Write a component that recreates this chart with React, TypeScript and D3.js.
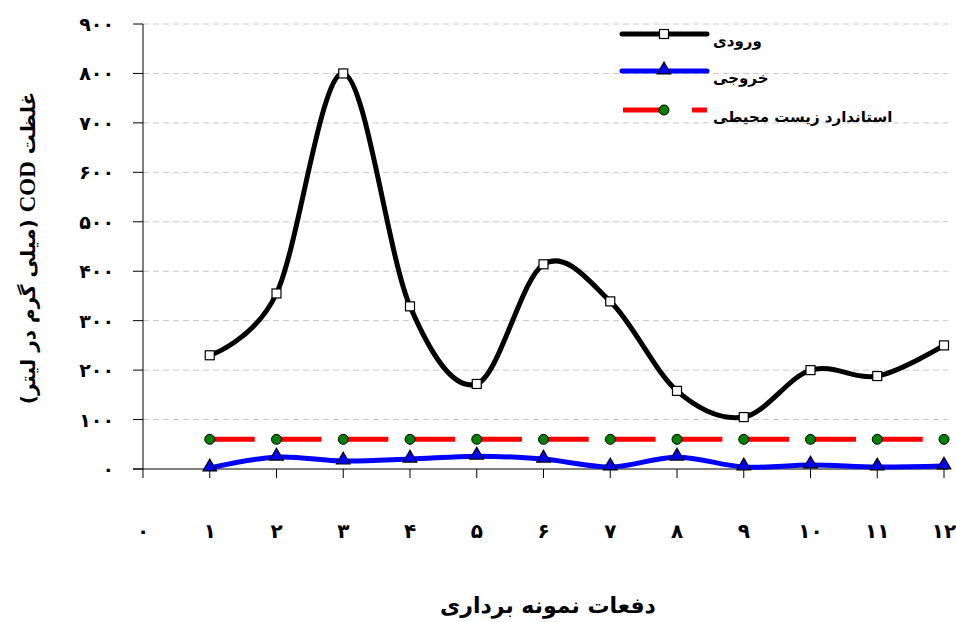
import React from 'react';
import * as d3 from 'd3';

const SAMPLES = [1, 2, 3, 4, 5, 6, 7, 8, 9, 10, 11, 12];
const INLET = [230, 355, 800, 329, 172, 414, 339, 158, 105, 200, 188, 250];
const OUTLET = [2, 24, 16, 20, 26, 20, 4, 24, 4, 8, 4, 6];
const STANDARD = [60, 60, 60, 60, 60, 60, 60, 60, 60, 60, 60, 60];
const Y_TICKS = [0, 100, 200, 300, 400, 500, 600, 700, 800, 900];
const X_TICKS = [0, 1, 2, 3, 4, 5, 6, 7, 8, 9, 10, 11, 12];

const LEGEND = ['ورودی', 'خروجی', 'استاندارد زیست محیطی'];
const Y_TITLE = ['غلظت ', 'COD', ' (میلی گرم در لیتر)'];
const X_TITLE = 'دفعات نمونه برداری';

const W = 956;
const H = 622;
const FONT = "'DejaVu Sans', sans-serif";

const fa = (n: number) => String(n).replace(/\d/g, d => '۰۱۲۳۴۵۶۷۸۹'[+d]);

export default function App() {
  const ref = React.useRef<SVGSVGElement>(null);

  React.useEffect(() => {
    const svg = d3.select(ref.current);
    svg.selectAll('*').remove();

    const x = d3.scaleLinear().domain([0, 12]).range([143, 944]);
    const y = d3.scaleLinear().domain([0, 900]).range([469, 24]);

    // grid
    for (const v of Y_TICKS.filter(v => v > 0)) {
      svg.append('line')
        .attr('x1', 143).attr('x2', 948)
        .attr('y1', y(v)).attr('y2', y(v))
        .attr('stroke', '#c8c8c8').attr('stroke-width', 1)
        .attr('stroke-dasharray', '6 4');
    }

    // axes
    svg.append('line').attr('x1', 143).attr('x2', 143).attr('y1', 24).attr('y2', 478)
      .attr('stroke', '#000').attr('stroke-width', 1);
    svg.append('line').attr('x1', 133).attr('x2', 948).attr('y1', 469).attr('y2', 469)
      .attr('stroke', '#000').attr('stroke-width', 1);

    for (const v of Y_TICKS) {
      svg.append('line').attr('x1', 133).attr('x2', 143).attr('y1', y(v)).attr('y2', y(v))
        .attr('stroke', '#000');
      svg.append('text')
        .attr('x', 114).attr('y', y(v) + 7)
        .attr('text-anchor', 'end')
        .attr('font-family', FONT).attr('font-weight', 700).attr('font-size', 19)
        .text(fa(v));
    }

    for (const v of X_TICKS) {
      if (v > 0) {
        svg.append('line').attr('x1', x(v)).attr('x2', x(v)).attr('y1', 469).attr('y2', 478)
          .attr('stroke', '#000');
      }
      svg.append('text')
        .attr('x', x(v)).attr('y', 538)
        .attr('text-anchor', 'middle')
        .attr('font-family', FONT).attr('font-weight', 700).attr('font-size', 20)
        .text(fa(v));
    }

    // titles
    const yt = svg.append('text')
      .attr('transform', `translate(35, 248) rotate(-90)`)
      .attr('text-anchor', 'middle')
      .attr('direction', 'rtl')
      .attr('font-family', FONT).attr('font-weight', 700).attr('font-size', 20);
    yt.append('tspan').text(Y_TITLE[0]);
    yt.append('tspan').attr('font-family', "'Liberation Serif', serif").attr('font-size', 23).text(Y_TITLE[1]);
    yt.append('tspan').text(Y_TITLE[2]);

    svg.append('text')
      .attr('x', 548).attr('y', 613)
      .attr('text-anchor', 'middle')
      .attr('direction', 'rtl')
      .attr('font-family', FONT).attr('font-weight', 700).attr('font-size', 22)
      .text(X_TITLE);

    const curve = d3.curveCardinal.tension(0);
    const line = d3.line<number>().x((_, i) => x(SAMPLES[i])).y(d => y(d)).curve(curve);

    // standard
    svg.append('path')
      .attr('d', d3.line<number>().x((_, i) => x(SAMPLES[i])).y(d => y(d))(STANDARD)!)
      .attr('fill', 'none').attr('stroke', '#ff0000').attr('stroke-width', 5)
      .attr('stroke-dasharray', '45 21.8');
    STANDARD.forEach((d, i) => {
      svg.append('circle').attr('cx', x(SAMPLES[i])).attr('cy', y(d)).attr('r', 5)
        .attr('fill', '#008000').attr('stroke', '#000').attr('stroke-width', 1);
    });

    // outlet
    svg.append('path').attr('d', line(OUTLET)!)
      .attr('fill', 'none').attr('stroke', '#0000ff').attr('stroke-width', 5);
    const tri = d3.symbol().type(d3.symbolTriangle).size(80);
    OUTLET.forEach((d, i) => {
      svg.append('path').attr('d', tri()!)
        .attr('transform', `translate(${x(SAMPLES[i])},${y(d) - 1})`)
        .attr('fill', '#0000ff').attr('stroke', '#000').attr('stroke-width', 1.2);
    });

    // inlet
    svg.append('path').attr('d', line(INLET)!)
      .attr('fill', 'none').attr('stroke', '#000').attr('stroke-width', 5);
    INLET.forEach((d, i) => {
      svg.append('rect').attr('x', x(SAMPLES[i]) - 4.5).attr('y', y(d) - 4.5)
        .attr('width', 9).attr('height', 9)
        .attr('fill', '#fff').attr('stroke', '#000').attr('stroke-width', 1.2);
    });

    // legend
    const lg = svg.append('g');
    const rows = [34, 71, 110];
    lg.append('line').attr('x1', 622).attr('x2', 707).attr('y1', rows[0]).attr('y2', rows[0])
      .attr('stroke', '#000').attr('stroke-width', 5).attr('stroke-linecap', 'round');
    lg.append('rect').attr('x', 659.5).attr('y', rows[0] - 4.5).attr('width', 9).attr('height', 9)
      .attr('fill', '#fff').attr('stroke', '#000').attr('stroke-width', 1.2);
    lg.append('line').attr('x1', 622).attr('x2', 707).attr('y1', rows[1]).attr('y2', rows[1])
      .attr('stroke', '#0000ff').attr('stroke-width', 5).attr('stroke-linecap', 'round');
    lg.append('path').attr('d', tri()!).attr('transform', `translate(664,${rows[1] - 1})`)
      .attr('fill', '#0000ff').attr('stroke', '#000').attr('stroke-width', 1.2);
    lg.append('line').attr('x1', 623).attr('x2', 664).attr('y1', rows[2]).attr('y2', rows[2])
      .attr('stroke', '#ff0000').attr('stroke-width', 5);
    lg.append('line').attr('x1', 692).attr('x2', 707).attr('y1', rows[2]).attr('y2', rows[2])
      .attr('stroke', '#ff0000').attr('stroke-width', 5);
    lg.append('circle').attr('cx', 664).attr('cy', rows[2]).attr('r', 5)
      .attr('fill', '#008000').attr('stroke', '#000');
    LEGEND.forEach((t, i) => {
      lg.append('text')
        .attr('x', 713).attr('y', rows[i] + 12)
        .attr('font-family', FONT).attr('font-weight', 700).attr('font-size', 15)
        .text(t);
    });
  }, []);

  return (
    <svg ref={ref} width={W} height={H}
      style={{ position: 'absolute', left: 0, top: 0, background: '#fff' }} />
  );
}
